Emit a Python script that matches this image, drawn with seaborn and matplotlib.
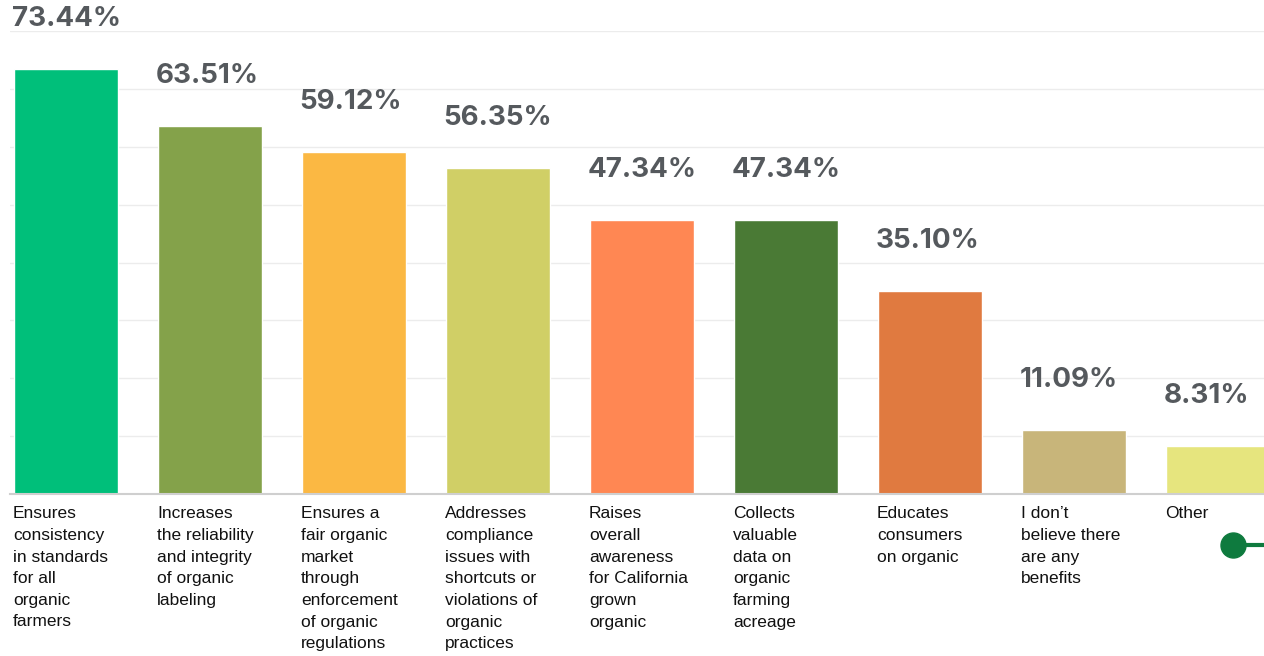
import numpy as np
import matplotlib
matplotlib.use('Agg')
import matplotlib.pyplot as plt
import seaborn as sns
from matplotlib.lines import Line2D

# data
categories = [
    'Ensures\nconsistency\nin standards\nfor all\norganic\nfarmers',
    'Increases\nthe reliability\nand integrity\nof organic\nlabeling',
    'Ensures a\nfair organic\nmarket\nthrough\nenforcement\nof organic\nregulations',
    'Addresses\ncompliance\nissues with\nshortcuts or\nviolations of\norganic\npractices',
    'Raises\noverall\nawareness\nfor California\ngrown\norganic',
    'Collects\nvaluable\ndata on\norganic\nfarming\nacreage',
    'Educates\nconsumers\non organic',
    'I don\u2019t\nbelieve there\nare any\nbenefits',
    'Other',
]
values = [73.44, 63.51, 59.12, 56.35, 47.34, 47.34, 35.10, 11.09, 8.31]
value_labels = ['73.44%', '63.51%', '59.12%', '56.35%', '47.34%', '47.34%',
                '35.10%', '11.09%', '8.31%']
colors = ['#00BF7A', '#84A24A', '#FBB843', '#D0CF66', '#FF8753',
          '#4A7A35', '#E07A40', '#C8B57A', '#E6E57E']

sns.set_style('white')
plt.rcParams['font.family'] = ['Liberation Sans', 'DejaVu Sans']

W, H = 1264, 656
fig = plt.figure(figsize=(W / 100, H / 100), dpi=100)
ax = fig.add_axes([10 / W, (H - 494) / H, 1 - 10 / W, (494 - 31) / H])

keys = [str(i) for i in range(len(values))]
sns.barplot(x=keys, y=values, hue=keys, palette=colors, legend=False,
            width=0.72, saturation=1, ax=ax)

ax.set_xlim(-0.39, 8.32)
ax.set_ylim(0, 80)
ax.set_yticks(np.arange(10, 81, 10))
ax.yaxis.grid(True, color='#ececec', lw=1)
ax.set_axisbelow(True)
ax.set_yticklabels([])
ax.tick_params(left=False, bottom=False, labelbottom=False)
for s in ['top', 'right', 'left']:
    ax.spines[s].set_visible(False)
ax.spines['bottom'].set_color('#cfcfcf')
ax.spines['bottom'].set_linewidth(1.5)
ax.set_xlabel('')
ax.set_ylabel('')

for i, (v, lab, cat) in enumerate(zip(values, value_labels, categories)):
    ax.annotate(lab, xy=(i - 0.36, v), xytext=(-2, 36), textcoords='offset points',
                ha='left', va='center', fontsize=20, fontweight='bold',
                family=['Inter', 'Roboto', 'DejaVu Sans'], color='#55595d',
                annotation_clip=False)
    ax.annotate(cat, xy=(i - 0.36, 0), xycoords=('data', 'axes fraction'),
                xytext=(-1, -9), textcoords='offset points', ha='left', va='top',
                fontsize=12.5, color='#111111', linespacing=1.55,
                annotation_clip=False)

# decorative connector at bottom right
fig.add_artist(Line2D([1233 / W, 1.0], [1 - 545 / H] * 2, transform=fig.transFigure,
                      color='#0E7A3E', lw=3))
fig.add_artist(Line2D([1233 / W], [1 - 545 / H], transform=fig.transFigure,
                      marker='o', markersize=18, color='#0E7A3E'))

fig.savefig('out.png', dpi=100)
